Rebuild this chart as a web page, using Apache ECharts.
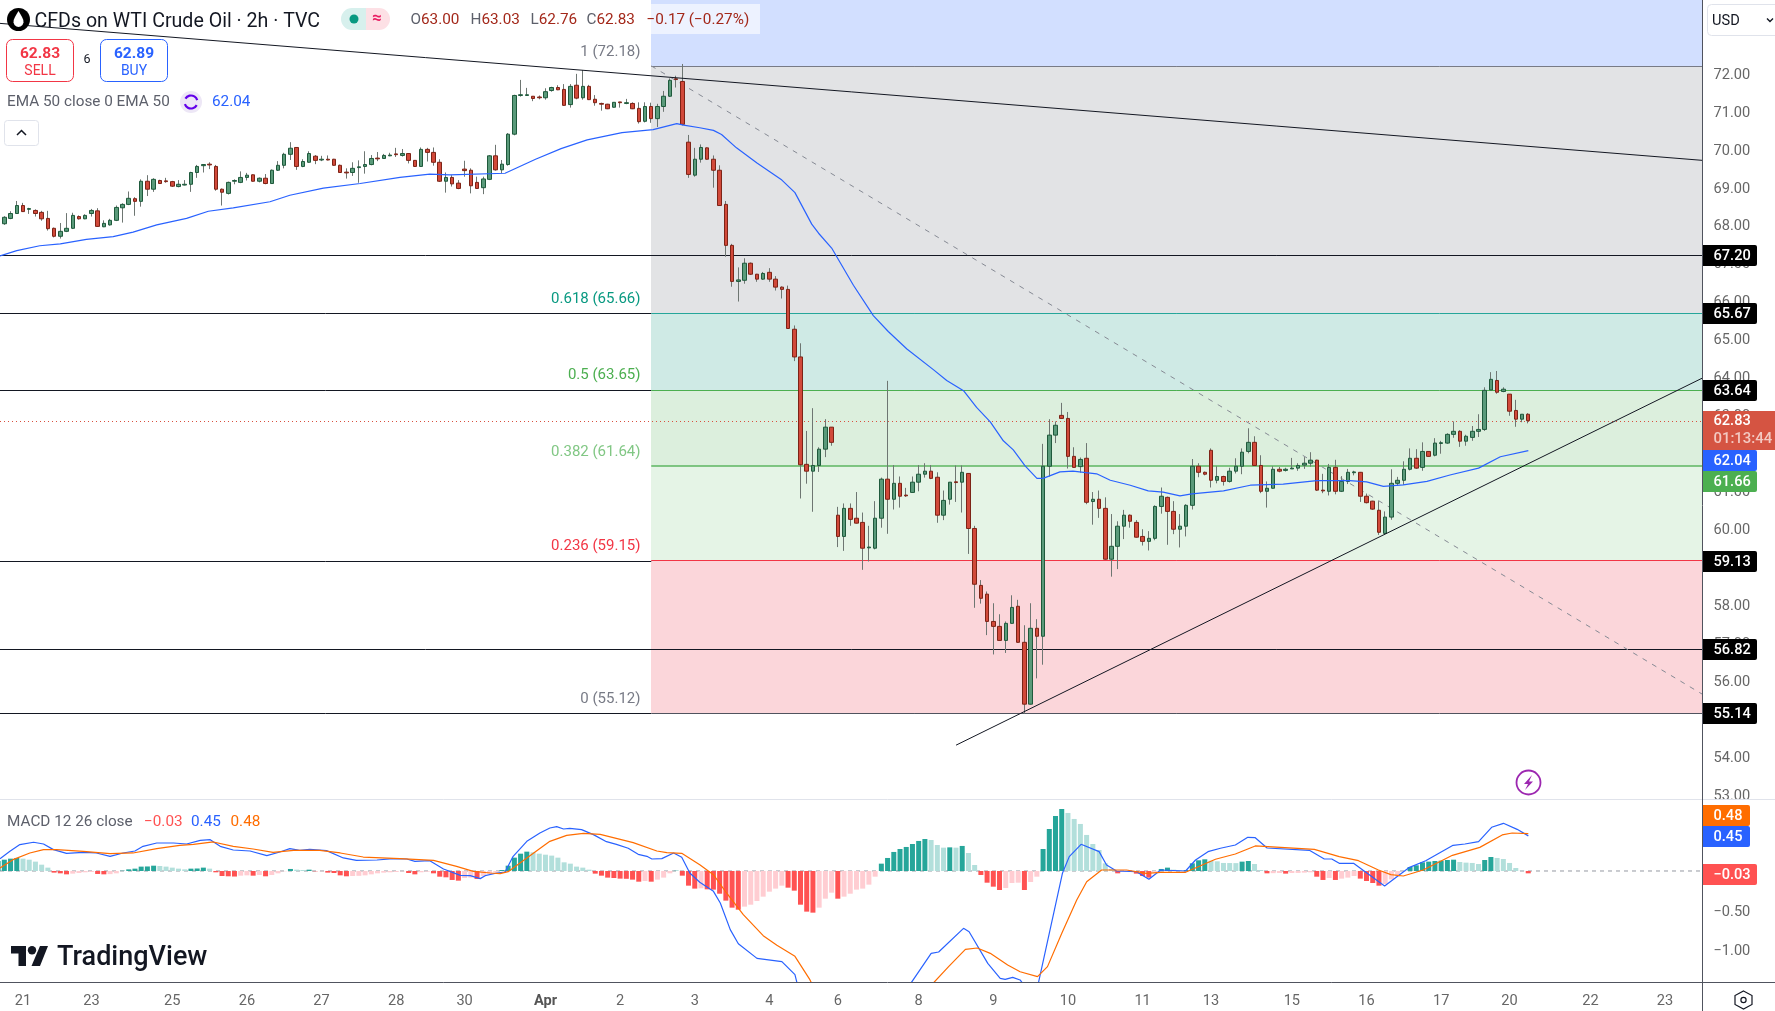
<!DOCTYPE html>
<html><head><meta charset="utf-8">
<style>html,body{margin:0;padding:0;background:#fff}#c{width:1775px;height:1011px}</style>
<script src="https://cdn.jsdelivr.net/npm/echarts@6/dist/echarts.min.js"></script>
</head><body><div id="c"></div>
<script>
const opens=[67.92,68.02,68.16,68.29,68.50,68.40,68.37,68.32,68.16,67.90,
67.69,67.82,67.90,68.21,68.15,68.29,68.36,67.94,67.99,68.11,
68.44,68.53,68.68,68.61,69.14,68.93,69.16,69.15,69.13,69.00,
69.04,69.06,69.37,69.55,69.59,69.53,68.93,68.82,69.14,69.11,
69.24,69.31,69.14,69.22,69.08,69.43,69.56,69.85,70.03,69.53,
69.64,69.80,69.70,69.72,69.72,69.56,69.38,69.37,69.50,69.53,
69.58,69.75,69.74,69.81,69.86,69.82,69.87,69.69,69.53,69.98,
69.90,69.64,69.14,69.24,69.09,69.46,69.43,69.11,68.97,69.19,
69.81,69.44,69.58,70.38,71.40,71.40,71.38,71.36,71.34,71.53,
71.61,71.56,71.16,71.67,71.34,71.64,71.30,71.19,71.17,71.09,
71.23,71.19,71.19,71.06,70.72,71.11,70.79,71.11,71.38,71.84,
71.77,70.17,69.30,69.72,70.02,69.72,69.43,68.53,67.45,66.50,
66.53,66.98,66.69,66.56,66.74,66.56,66.35,66.29,65.24,64.51,
61.68,61.50,61.65,62.08,62.66,60.34,59.78,60.52,60.26,60.15,
59.48,59.47,60.26,61.29,60.76,61.18,60.87,60.94,61.21,61.42,
61.50,61.34,60.34,60.76,61.22,61.21,61.44,59.99,58.49,58.26,
57.54,57.41,57.04,57.49,57.94,56.99,55.36,57.36,57.15,61.63,
62.45,62.97,62.89,61.89,61.62,61.84,60.70,60.76,60.52,59.18,
59.52,60.05,60.34,60.15,59.78,59.65,59.73,60.57,60.81,60.44,
59.97,60.05,60.60,61.63,61.47,62.05,61.26,61.36,61.23,61.50,
61.63,62.02,62.26,61.65,60.97,61.05,61.55,61.52,61.56,61.58,
61.66,61.71,61.79,61.00,60.97,61.60,60.97,61.23,61.46,61.47,
60.84,60.71,60.47,59.86,60.29,61.18,61.26,61.55,61.84,61.60,
62.02,61.92,62.23,62.24,62.47,62.55,62.29,62.39,62.55,62.60,
63.64,63.89,63.60,63.53,63.10,62.87,63.00];
const closes=[68.03,68.19,68.29,68.50,68.34,68.42,68.29,68.15,67.89,67.69,
67.82,67.90,68.24,68.15,68.24,68.37,67.95,68.03,68.11,68.45,
68.53,68.69,68.61,69.14,68.93,69.19,69.08,69.13,69.01,69.06,
69.06,69.37,69.53,69.58,69.57,68.93,68.85,69.11,69.16,69.24,
69.30,69.14,69.22,69.08,69.43,69.56,69.85,70.01,69.53,69.66,
69.87,69.69,69.72,69.70,69.56,69.37,69.36,69.48,69.52,69.58,
69.74,69.73,69.82,69.83,69.84,69.87,69.69,69.53,69.98,69.90,
69.64,69.14,69.24,69.07,68.95,69.42,69.02,68.95,69.20,69.81,
69.44,69.59,70.38,71.40,71.42,71.42,71.32,71.34,71.50,71.61,
71.55,71.14,71.64,71.33,71.64,71.29,71.21,71.17,71.05,71.22,
71.21,71.21,71.05,70.71,71.11,70.79,71.11,71.38,71.80,71.82,
70.64,69.32,69.72,70.03,69.72,69.43,68.50,67.45,66.50,66.54,
66.98,66.69,66.56,66.71,66.56,66.35,66.29,65.26,64.51,61.67,
61.50,61.65,62.08,62.66,62.26,59.78,60.52,60.23,60.13,59.47,
59.50,60.26,61.29,60.76,61.18,60.84,60.85,61.21,61.42,61.50,
61.31,60.34,60.73,61.21,61.20,61.47,59.99,58.52,58.15,57.54,
57.41,57.04,57.49,57.91,56.99,55.36,57.36,57.15,61.63,62.45,
62.71,62.89,61.89,61.60,61.81,60.68,60.76,60.52,59.18,59.52,
60.05,60.34,60.18,59.76,59.65,59.73,60.57,60.84,60.44,59.97,
60.05,60.60,61.63,61.47,61.42,61.26,61.36,61.23,61.50,61.63,
62.00,62.26,61.65,60.97,61.05,61.55,61.50,61.55,61.58,61.65,
61.71,61.79,61.00,60.98,61.60,60.97,61.23,61.47,61.48,60.84,
60.67,60.50,59.89,60.29,61.18,61.26,61.55,61.84,61.58,62.02,
61.89,62.24,62.25,62.47,62.55,62.29,62.42,62.55,62.60,63.63,
63.92,63.58,63.66,63.08,62.87,63.00,62.83];
const lows=[67.90,67.99,68.14,68.28,68.33,68.28,68.21,68.10,67.84,67.66,
67.63,67.80,67.88,68.13,68.14,68.21,67.94,67.93,67.97,68.09,
68.05,68.51,68.23,68.47,68.75,68.86,69.07,69.10,68.99,68.98,
69.03,68.86,69.23,69.37,69.46,68.89,68.50,68.79,69.06,69.09,
69.16,69.13,69.11,69.06,69.08,69.41,69.48,69.70,69.44,69.51,
69.63,69.59,69.67,69.69,69.55,69.36,69.21,69.28,69.10,69.34,
69.56,69.67,69.73,69.80,69.78,69.79,69.61,69.52,69.52,69.66,
69.55,69.12,68.84,69.00,68.93,69.26,68.82,68.94,68.80,69.17,
69.42,69.35,69.55,70.35,71.37,71.39,71.25,71.30,71.29,71.50,
71.54,71.13,71.08,71.30,71.29,71.28,71.13,71.00,71.04,71.08,
71.08,71.17,71.04,70.66,70.69,70.68,70.57,70.97,71.36,71.61,
70.61,69.23,69.26,69.63,69.71,68.97,68.50,67.15,66.36,65.97,
66.44,66.67,66.49,66.54,66.49,66.26,66.05,65.26,64.40,60.78,
61.17,60.43,61.48,61.87,62.17,59.50,59.40,60.06,60.12,58.90,
59.12,59.44,60.01,59.85,60.49,60.54,60.82,60.93,60.97,61.33,
61.29,60.14,60.21,60.62,60.69,60.41,59.32,57.90,58.01,57.18,
56.67,57.03,56.71,57.48,56.98,55.11,55.35,56.04,56.40,61.36,
62.24,62.88,61.57,61.59,61.46,60.63,60.09,60.27,59.17,58.72,
58.92,59.71,60.01,59.75,59.54,59.41,59.68,60.38,59.56,59.84,
59.49,59.78,60.49,61.34,61.39,61.07,61.18,61.12,61.20,61.44,
61.42,61.97,61.65,60.92,60.54,61.04,61.47,61.49,61.56,61.51,
61.56,61.62,60.98,60.92,60.86,60.89,60.95,61.16,61.39,60.69,
60.65,60.48,59.82,59.83,60.22,61.12,61.14,61.52,61.56,61.51,
61.88,61.89,61.96,62.22,62.38,62.14,62.17,62.30,62.40,62.56,
63.64,63.54,63.58,62.96,62.67,62.79,62.76];
const highs=[68.07,68.22,68.35,68.62,68.57,68.44,68.40,68.36,68.36,67.92,
68.04,68.30,68.31,68.24,68.27,68.41,68.43,68.11,68.15,68.50,
68.56,68.87,68.72,69.19,69.30,69.22,69.18,69.23,69.15,69.17,
69.17,69.39,69.57,69.59,69.64,69.57,68.95,69.13,69.19,69.40,
69.36,69.32,69.24,69.33,69.45,69.67,69.89,70.17,70.04,69.72,
69.93,69.83,69.81,69.82,69.73,69.58,69.48,69.64,69.69,69.93,
69.83,69.91,69.86,69.89,70.02,69.99,69.88,69.70,70.03,70.02,
70.03,69.72,69.37,69.30,69.17,69.68,69.48,69.26,69.26,69.83,
70.10,69.70,70.41,71.42,71.81,71.60,71.38,71.40,71.59,71.63,
71.67,71.70,71.70,71.97,72.07,71.68,71.41,71.21,71.18,71.22,
71.23,71.31,71.22,71.22,71.22,71.21,71.18,71.52,71.85,71.92,
72.23,70.36,70.02,70.11,70.03,69.82,69.56,68.62,67.49,66.87,
67.11,67.00,66.70,66.75,66.85,66.64,66.37,66.39,65.34,64.87,
62.56,63.16,62.13,62.87,62.66,60.56,60.65,60.65,60.95,60.41,
60.06,60.71,61.33,63.88,61.66,61.36,61.06,61.36,61.66,61.71,
61.66,61.47,60.99,61.21,61.65,61.65,61.44,60.06,58.63,58.33,
58.02,57.73,57.54,58.23,58.11,57.44,58.02,57.60,62.22,62.87,
62.81,63.30,63.06,62.13,61.86,62.24,60.95,60.99,60.81,60.37,
60.18,60.48,60.36,60.21,59.97,59.92,60.60,61.07,60.83,60.71,
60.37,60.63,61.82,61.71,61.49,62.10,61.63,61.38,61.59,61.84,
62.10,62.63,62.42,61.92,61.23,61.63,61.61,61.59,61.85,61.71,
61.87,62.00,61.80,61.43,61.69,61.80,61.37,61.56,61.51,61.48,
60.91,60.72,60.71,60.44,61.55,61.35,61.76,62.10,62.08,62.26,
62.02,62.37,62.30,62.50,62.81,62.58,62.46,62.69,63.00,63.71,
64.11,64.14,63.71,63.53,63.38,63.00,63.03];
const histogram=[.128,.145,.158,.167,.158,.145,.120,.081,.043,
-.021,-.030,-.043,-.034,-.026,-.017,-.013,-.038,-.043,-.040,-.030,
.004,.021,.030,.056,.058,.068,.064,.056,.043,.030,.021,.030,.032,.043,.030,
-.017,-.064,-.068,-.071,-.060,-.056,-.060,-.051,-.068,-.051,-.030,-.004,
.026,.017,.013,.017,
-.004,-.003,-.021,-.026,-.056,-.068,-.064,-.062,-.056,-.043,-.030,-.021,-.017,-.013,-.004,
-.026,-.043,-.017,-.009,
-.030,-.073,-.081,-.115,-.124,-.090,-.085,-.103,-.064,-.034,-.017,
.013,.068,.171,.222,.248,.239,.222,.209,.197,.171,.111,.094,.056,.043,.017,
-.034,-.060,-.085,-.090,-.098,-.100,-.111,-.137,-.128,-.137,-.111,-.085,-.030,
.004,-.060,-.188,-.226,-.222,-.235,-.239,-.291,-.380,-.470,-.496,
-.457,-.432,-.385,-.329,-.265,-.226,-.188,
-.214,-.252,-.432,-.521,-.534,
-.470,-.355,-.278,
-.355,-.329,-.291,-.239,-.226,-.175,-.073,
.094,.167,.244,.282,.308,.346,.385,.410,.397,.333,.299,.303,.299,.321,.231,.077,
-.051,-.150,-.201,-.244,-.218,-.154,-.150,-.244,-.141,-.073,
.282,.538,.705,.795,.744,.667,.603,.462,.346,.269,.098,.026,
-.030,-.013,-.012,-.034,-.064,-.085,-.017,
.026,.043,.017,.009,.013,.098,.137,.150,.132,.124,.103,.102,.101,.120,.128,.090,.013,
-.030,-.028,-.026,-.034,-.026,-.025,-.021,-.017,
-.073,-.115,-.090,-.115,-.098,-.085,-.064,
-.098,-.128,-.154,-.188,-.167,-.107,-.073,-.004,
.051,.073,.111,.120,.128,.132,.141,.145,
.115,.107,.103,.090,
.141,.179,.167,.154,.103,.038,.004,-.03];
const emaBars=[.3,3,6.7,10,14.2,18.5,21.7,25.5,30.3,33.8,37.8,43.7,46.9,52.3,58.2,64.6,69.4,72.6,81.5,86.4,90.5,94.7,100.3,105.3,109.1,110.2,112.8,115,116.3,118.7,122,126,128.1,130.8,131.9,134,137.5,140.7,143.1,146.1,150.4,152.5,155.2,157.3,159.5,161.6,163.2,165.1,167,168,170.7,172.8,176.6,178.8,182,184.9,187.3,190,191.9,197,201.3,206.6,212,217.3,220,222.7,225.9,229.7,233.4,238,241.5,246];
const emaValues=[67.17,67.31,67.44,67.49,67.61,67.68,67.8,67.99,68.16,68.35,68.44,68.6,68.77,68.96,69.08,69.24,69.33,69.31,69.35,69.72,70,70.23,70.42,70.5,70.66,70.62,70.55,70.48,70.37,70.02,69.62,69.17,68.84,68.01,67.77,67.38,66.4,65.6,65.18,64.72,64.17,63.89,63.62,63.18,62.8,62.3,62.06,61.64,61.31,61.31,61.48,61.5,61.43,61.26,61.13,60.98,60.95,60.85,60.9,60.98,61.13,61.16,61.25,61.25,61.22,61.1,61.14,61.23,61.4,61.58,61.88,62.04];
const macdBars=[.3,1.9,3.5,5.7,7.3,8.9,11,13.7,15.8,18,20.1,22,23.3,25.5,28.2,30.3,32.5,34.1,35.7,37.8,40.5,43.2,45.3,46.9,48.5,50.1,52.8,55.5,57.6,60.9,63.5,65.7,67,69.4,71.6,74.3,75.9,77.5,78.3,80.2,81.5,82.8,85,87.1,88.7,89.8,90.9,91.9,93.8,95.7,97.8,99.4,101.3,102.9,104.3,105.1,106.7,108.6,109.9,111.2,112.8,115,116.1,117.7,119,122,126,128.1,128.7,136,143,146.8,150,151.2,155.2,156.1,159.1,161.1,161.9,163.1,164.3,165.5,167.2,171.1,172.2,174.1,177,178.2,179.8,183,185,186.9,190.9,192.5,194.5,196.5,198.9,200.9,202.1,204,210.8,213.2,214.4,215.6,217.9,222.9,226.9,229.5,233.9,235.8,238,240.1,242,244.2,246];
const macdValues=[.158,.252,.338,.368,.346,.274,.226,.239,.231,.188,.231,.256,.316,.359,.359,.346,.393,.402,.316,.269,.256,.197,.244,.286,.265,.278,.261,.167,.137,.141,.158,.154,.124,.132,.026,-.056,-.06,-.098,-.06,-.026,-.013,.188,.38,.487,.551,.568,.538,.547,.53,.466,.376,.342,.291,.214,.188,.154,.158,.231,.175,-.026,-.145,-.261,-.41,-.752,-.932,-1.12,-1.162,-1.329,-1.521,-1.9,-1.7,-1.432,-1.056,-1.038,-.735,-.778,-1.184,-1.376,-1.389,-1.363,-1.397,-1.526,-1.45,-.03,.184,.342,.248,.077,0,-.009,-.107,.013,0,.141,.248,.291,.333,.432,.427,.295,.265,.154,.154,.098,.098,-.192,.047,.132,.329,.346,.376,.56,.611,.534,.45];
const signalBars=[.3,2.4,5.1,7.3,9.4,13.7,18,21.7,25.5,29.2,31.4,34.6,37.8,41,44.2,47.5,51.7,55,58.7,64.6,70,73.7,76.4,79.1,80.7,82,83.9,86.1,88.7,91.4,94.1,96.8,102.1,105.9,107.5,109.9,112.8,115,117.1,119.8,123,125.2,128.1,130.5,132.1,140,146,150.4,152.8,155.5,157.4,159.5,162.3,164.3,167.1,168.7,171,173.4,175,177.4,181.4,184.6,186.9,190.9,195.7,198.9,202.1,211.6,215.6,218.7,221.9,223.9,225.9,229.1,233.8,238.2,241.8,243.4,246];
const signalValues=[.038,.145,.231,.274,.274,.252,.222,.231,.286,.329,.342,.372,.316,.282,.239,.265,.265,.231,.179,.158,.137,.06,-.004,-.026,-.034,-.009,.103,.231,.38,.457,.483,.47,.363,.256,.235,.226,.081,-.047,-.282,-.56,-.829,-.953,-1.094,-1.393,-1.65,-1.95,-1.75,-1.432,-1.226,-1.004,-.987,-1.056,-1.205,-1.291,-1.355,-1.226,-.799,-.372,-.137,.013,.013,-.03,-.017,-.017,.15,.218,.321,.278,.184,.132,.013,-.047,-.064,.013,.201,.303,.462,.487,.48];
const dayLabels=['21','23','25','26','27','28','30','Apr','2','3','4','6','8','9','10','11','13','15','16','17','20','22','23'];
const dayLabelBars=[4,15,28,40,52,64,75,88,100,112,124,135,148,160,172,184,195,208,220,232,243,256,268];
const priceTicks=[72,71,70,69,68,67,66,65,64,63,62,61,60,59,58,57,56,55,54,53];
const macdTicks=[-0.5,-1];
const fibLevels=[72.18,65.66,63.65,61.64,59.15,55.12];
const fibNames=['1 (72.18)','0.618 (65.66)','0.5 (63.65)','0.382 (61.64)','0.236 (59.15)','0 (55.12)'];
const rayLevels=[67.20,65.67,63.64,59.13,56.82,55.14];
const lastClose=62.83;
const descTrend=[[.304,73.30],[274,69.69]];
const ascTrend=[[154,54.28],[274,63.955]];
const fibDiag=[[105,72.18],[274,55.62]];

const BAR=6.22,NCAT=275,LEFT=-5,PANE=1702.5,LABEL_DY=2.3;
const XMIN=.304,XMAX=274,YMIN=52.835,YMAX=73.916,MMIN=-1.423,MMAX=.91;
const FIB_X=105;
const cats=[];for(let i=0;i<NCAT;i++){const k=dayLabelBars.indexOf(i);cats.push(k>=0?dayLabels[k]:'');}
const FF='Roboto, "Noto Sans", sans-serif';
const zoneCols=['#d2dfff','#e2e3e5','#cfeae5','#dcefdd','#e5f4e6','#fbd6da'];
const fibLineCols=['#787b86','#26a69a','#4caf50','#5cb660','#f23645','#50535e'];
const fibTextCols=['#787b86','#089981','#4caf50','#81c784','#f23645','#787b86'];
const zoneData=[];
zoneData.push([FIB_X,XMAX,fibLevels[0],YMAX,0]);
for(let i=0;i<5;i++)zoneData.push([FIB_X,XMAX,fibLevels[i+1],fibLevels[i],i+1]);
const lvl=[];
rayLevels.forEach(p=>lvl.push([XMIN,p===67.2||p===56.82?XMAX:FIB_X,p,'#131722',1,0]));
fibLevels.forEach((p,i)=>lvl.push([FIB_X,XMAX,p,fibLineCols[i],i===3?1.7:1,0]));
lvl.push([XMIN,XMAX,lastClose,'#d8503f',1,1]);

function sharpLine(params,api){
  const a=api.coord([api.value(0),api.value(2)]),b=api.coord([api.value(1),api.value(2)]);
  const d=lvl[params.dataIndex];
  const y=d[4]>1?Math.round(a[1]):Math.round(a[1])+.5;
  return {type:'line',shape:{x1:a[0],y1:y,x2:b[0],y2:y},style:{stroke:d[3],lineWidth:d[4],lineDash:d[5]?[1,3]:null}};
}
function zoneRect(params,api){
  const a=api.coord([api.value(0),api.value(3)]),b=api.coord([api.value(1),api.value(2)]);
  const x=Math.round(a[0]),y=Math.round(a[1]);
  return {type:'rect',shape:{x:x,y:y,width:b[0]-x,height:Math.round(b[1])-y},style:{fill:zoneCols[api.value(4)]}};
}
function seg(points,color,width,type,z,xi,yi,name){
  return {type:'line',name:name,data:points,xAxisIndex:xi,yAxisIndex:yi,symbol:'none',z:z,silent:true,animation:false,
    lineStyle:{color:color,width:width,type:type||'solid'}};
}
const zip=(a,b)=>a.map((v,i)=>[v,b[i]]);
const wickData=opens.map((o,i)=>[o,closes[i],lows[i],highs[i]]);
const bodyData=opens.map((o,i)=>[o,closes[i],Math.min(o,closes[i]),Math.max(o,closes[i])]);

const G=[];
const rect=(x,y,w,h,fill,stroke,r,lw)=>G.push({type:'rect',shape:{x,y,width:w,height:h,r:r||0},style:{fill:fill||'transparent',stroke:stroke||null,lineWidth:lw||1},z:50,silent:true});
const text=(x,y,t,col,size,opt)=>G.push({type:'text',x,y,style:Object.assign({text:t,fill:col,font:(opt&&opt.weight||'400')+' '+size+'px '+FF,textAlign:opt&&opt.align||'left',textVerticalAlign:'middle'},opt&&opt.extra||{}),z:51,silent:true});
const gline=(x1,y1,x2,y2,col,lw)=>G.push({type:'line',shape:{x1,y1,x2,y2},style:{stroke:col,lineWidth:lw||1},z:50,silent:true});
gline(0,799.5,1775,799.5,'#e0e3eb');
gline(0,982.5,1775,982.5,'#50535e');
gline(1702.5,0,1702.5,1011,'#50535e');
const fibLabelY=[52,299.5,375.5,452.5,546,699];
fibNames.forEach((n,i)=>text(640.5,fibLabelY[i],n,fibTextCols[i],15,{align:'right'}));
const tag=(y,t,bg,w)=>{rect(1703,y-10.5,w||54,21,bg,null,[0,2,2,0]);text(1713.5,y+.5,t,'#fff',14.6,{weight:'500'});};
tag(255.5,'67.20','#000');tag(313.5,'65.67','#000');tag(390.5,'63.64','#000');
tag(561.5,'59.13','#000');tag(649.5,'56.82','#000');tag(713.5,'55.14','#000');
rect(1703,411,72,39,'#d55442');
text(1713.5,421.5,'62.83','#fff',14.6,{weight:'500'});text(1713.5,439.5,'01:13:44','#f3c9c2',14.9,{weight:'500'});
tag(460.5,'62.04','#2962ff');tag(481.5,'61.66','#4caf50');
tag(815.5,'0.48','#ff6d00',47);tag(836.5,'0.45','#2962ff',47);tag(874.5,'\u22120.03','#ff5252');
rect(1707.5,4.5,80,31,'#fff','#e0e3eb',4);
text(1712,21,'USD','#131722',14.6);
G.push({type:'polyline',shape:{points:[[1767,18.5],[1770,21.5],[1773,18.5]]},style:{stroke:'#131722',lineWidth:1.4,fill:null},z:51,silent:true});
G.push({type:'polygon',shape:{points:[[1743.5,991],[1752,995.5],[1752,1004.5],[1743.5,1009],[1735,1004.5],[1735,995.5]]},style:{fill:'#fff',stroke:'#131722',lineWidth:1.2},z:51,silent:true});
G.push({type:'circle',shape:{cx:1743.5,cy:1000,r:2.6},style:{fill:'#fff',stroke:'#131722',lineWidth:1.2},z:52,silent:true});
G.push({type:'circle',shape:{cx:18.5,cy:19.5,r:11.5},style:{fill:'#000'},z:51,silent:true});
G.push({type:'polygon',shape:{points:[[18.5,11],[20,13.5],[22,17],[23.3,20],[23.5,22.5],[22.5,25],[20.5,26.6],[18.5,27],[16.5,26.6],[14.5,25],[13.5,22.5],[13.7,20],[15,17],[17,13.5]]},style:{fill:'#fff'},z:52,silent:true});
text(34.5,22,'CFDs on WTI Crude Oil \u00b7 2h \u00b7 TVC','#131722',19.6);
rect(341,8,25,22,'#d7f0ed',null,[11,0,0,11]);rect(366,8,24,22,'#fde0e5',null,[0,11,11,0]);
G.push({type:'circle',shape:{cx:354,cy:19,r:4.5},style:{fill:'#089981'},z:52,silent:true});
text(377,19,'\u2248','#e91e63',17,{align:'center',weight:'700'});
rect(651,4,109,30,'rgba(255,255,255,.6)');
const ohlcX=[410.5,470.5,530.5,586.5];
[['O','63.00'],['H','63.03'],['L','62.76'],['C','62.83']].forEach((p,i)=>G.push({type:'text',x:ohlcX[i],y:20,style:{text:'{l|'+p[0]+'}{v|'+p[1]+'}',font:'15.3px '+FF,textVerticalAlign:'middle',rich:{l:{fill:'#5d606b',font:'15.3px '+FF},v:{fill:'#a3281a',font:'15.3px '+FF}}},z:51,silent:true}));
text(646.5,20,'\u22120.17 (\u22120.27%)','#a3281a',15.3);
rect(6.5,39.5,67,42,'#fff','#f23645',6);
text(40,54,'62.83','#f23645',15.5,{align:'center',weight:'700'});text(40,71,'SELL','#f23645',14,{align:'center'});
text(87,60,'6','#131722',12.5,{align:'center'});
rect(100.5,39.5,67,42,'#fff','#2962ff',6);
text(134,54,'62.89','#2962ff',15.5,{align:'center',weight:'700'});text(134,71,'BUY','#2962ff',14,{align:'center'});
text(7,102,'EMA 50 close 0 EMA 50','#5d606b',15.3);
G.push({type:'circle',shape:{cx:191,cy:102,r:11},style:{fill:'#ede7f6'},z:51,silent:true});
G.push({type:'arc',shape:{cx:191,cy:102,r:6.5,startAngle:-2.6,endAngle:-.3},style:{stroke:'#6200ea',lineWidth:2.2,fill:null},z:52,silent:true});
G.push({type:'arc',shape:{cx:191,cy:102,r:6.5,startAngle:.5,endAngle:2.8},style:{stroke:'#6200ea',lineWidth:2.2,fill:null},z:52,silent:true});
text(212,102,'62.04','#2962ff',15.3);
rect(4.5,120.5,34,25,'#fff','#e0e3eb',3);
G.push({type:'polyline',shape:{points:[[17,135],[21.5,130.5],[26,135]]},style:{stroke:'#131722',lineWidth:1.5,fill:null},z:51,silent:true});
text(7,822,'MACD 12 26 close','#5d606b',15.3);
text(144,822,'\u22120.03','#ff5252',15.3);text(191,822,'0.45','#2962ff',15.3);text(230.5,822,'0.48','#ff6d00',15.3);
G.push({type:'circle',shape:{cx:1528.5,cy:782.5,r:12},style:{fill:'#fff',stroke:'#9c27b0',lineWidth:1.8},z:51,silent:true});
G.push({type:'polygon',shape:{points:[[1532,775],[1524,784],[1528,784],[1525,790],[1533,781.5],[1529,781.5]]},style:{fill:'#9c27b0'},z:52,silent:true});
G.push({type:'polygon',shape:{points:[[11,946],[26,946],[26,966],[18.5,966],[18.5,953.5],[11,953.5]]},style:{fill:'#131722'},z:51,silent:true});
G.push({type:'polygon',shape:{points:[[40,946],[48,946],[40,966],[31.5,966]]},style:{fill:'#131722'},z:51,silent:true});
G.push({type:'circle',shape:{cx:32,cy:950.3,r:4.2},style:{fill:'#131722'},z:52,silent:true});
text(57,958,'TradingView','#131722',27,{weight:'500'});

const hiddenY=(g,a,b)=>({gridIndex:g,type:'value',min:a,max:b,show:false,scale:true});
const labelY=(g,a,b,ticks,fmt)=>({gridIndex:g,type:'value',min:a,max:b,position:'right',scale:true,axisLine:{show:false},axisTick:{show:false},splitLine:{show:false},
   axisLabel:{customValues:ticks,margin:11,fontFamily:FF,fontSize:14.6,color:'#666',formatter:fmt,showMinLabel:true,showMaxLabel:true}});
const chart=echarts.init(document.getElementById('c'),null,{renderer:'canvas'});
chart.setOption({
 animation:false,backgroundColor:'#fff',
 grid:[
  {left:LEFT,top:0,width:NCAT*BAR,height:800,show:false,outerBoundsMode:'none'},
  {left:0,top:0,width:PANE,height:800,show:false,outerBoundsMode:'none'},
  {left:LEFT,top:800,width:NCAT*BAR,height:182,show:false,outerBoundsMode:'none'},
  {left:0,top:800,width:PANE,height:182,show:false,outerBoundsMode:'none'},
  {left:0,top:LABEL_DY,width:PANE,height:800,show:false,outerBoundsMode:'none'},
  {left:0,top:800+LABEL_DY,width:PANE,height:182,show:false,outerBoundsMode:'none'}],
 xAxis:[
  {gridIndex:0,type:'category',data:cats,show:false},
  {gridIndex:1,type:'value',min:XMIN,max:XMAX,show:false},
  {gridIndex:2,type:'category',data:cats,position:'bottom',axisLine:{show:false},axisTick:{show:false},splitLine:{show:false},
   axisLabel:{show:true,interval:(i,v)=>v!=='',hideOverlap:false,margin:12,fontFamily:FF,fontSize:14.6,color:'#666',
    formatter:v=>v==='Apr'?'{b|Apr}':v,rich:{b:{fontWeight:700,fontSize:14.6,fontFamily:FF,color:'#555'}}}},
  {gridIndex:3,type:'value',min:XMIN,max:XMAX,show:false},
  {gridIndex:4,type:'value',min:XMIN,max:XMAX,show:false},
  {gridIndex:5,type:'value',min:XMIN,max:XMAX,show:false}],
 yAxis:[
  hiddenY(0,YMIN,YMAX),hiddenY(1,YMIN,YMAX),hiddenY(2,MMIN,MMAX),hiddenY(3,MMIN,MMAX),
  labelY(4,YMIN,YMAX,priceTicks,v=>v.toFixed(2)),
  labelY(5,MMIN,MMAX,macdTicks,v=>v.toFixed(2).replace('-','\u2212'))],
 series:[
  {type:'custom',name:'Fib zones',xAxisIndex:1,yAxisIndex:1,z:1,silent:true,clip:false,data:zoneData,encode:{x:[0,1],y:[2,3]},renderItem:zoneRect},
  {type:'custom',name:'Levels',xAxisIndex:1,yAxisIndex:1,z:2,silent:true,clip:false,data:lvl.map(d=>d.slice(0,3)),encode:{x:[0,1],y:2},renderItem:sharpLine},
  {type:'candlestick',name:'Wicks',xAxisIndex:0,yAxisIndex:0,z:4,silent:true,barWidth:1,data:wickData,large:false,progressive:0,
   itemStyle:{color:'#6e7672',color0:'#6e7672',borderColor:'#6e7672',borderColor0:'#6e7672',borderWidth:1}},
  {type:'candlestick',name:'WTI',xAxisIndex:0,yAxisIndex:0,z:5,silent:true,barWidth:4,data:bodyData,large:false,progressive:0,
   itemStyle:{color:'#5a9a7a',color0:'#d1493a',borderColor:'#1f5a3c',borderColor0:'#7d2316',borderWidth:1}},
  seg(zip(emaBars,emaValues),'#2962ff',1.2,null,6,1,1,'EMA 50'),
  seg(descTrend,'#131722',1,null,7,1,1,'Trend down'),
  seg(ascTrend,'#131722',1,null,7,1,1,'Trend up'),
  seg(fibDiag,'#868a94',1,[5,6],3,1,1,'Fib trend'),
  {type:'bar',name:'Histogram',xAxisIndex:2,yAxisIndex:2,z:2,silent:true,barWidth:5,
   data:histogram.map((v,i)=>{const p=i?histogram[i-1]:0;
     const c=v>=0?(v>=p?'#26a69a':'#b2dfdb'):(v<p?'#ff5252':'#ffcdd2');
     return {value:v,itemStyle:{color:c}};})},
  seg([[XMIN,0],[XMAX,0]],'#9598a1',1,[4,4],1,3,3,'Zero'),
  seg(zip(macdBars,macdValues),'#2962ff',1.2,null,3,3,3,'MACD'),
  seg(zip(signalBars,signalValues),'#ff6d00',1.2,null,4,3,3,'Signal')
 ],
 graphic:{elements:G}
});
</script></body></html>
